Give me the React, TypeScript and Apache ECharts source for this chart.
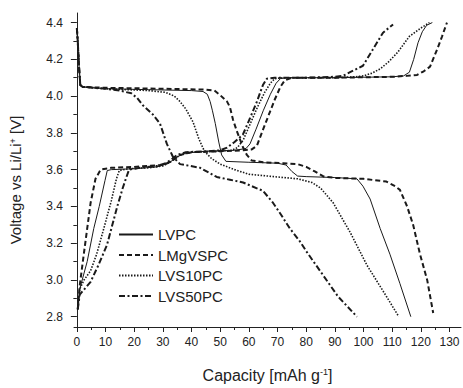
import React, { useEffect, useRef } from "react";
import * as echarts from "echarts";

const xMajor = [0, 10, 20, 30, 40, 50, 60, 70, 80, 90, 100, 110, 120, 130];
const xMinor = [5, 15, 25, 35, 45, 55, 65, 75, 85, 95, 105, 115, 125];
const yMajor = [2.8, 3.0, 3.2, 3.4, 3.6, 3.8, 4.0, 4.2, 4.4];
const yMinor = [2.9, 3.1, 3.3, 3.5, 3.7, 3.9, 4.1, 4.3];

const names = ["LVPC", "LMgVSPC", "LVS10PC", "LVS50PC"];

const lvpcCharge = [
  [0.3, 2.84], [1, 2.95], [3.6, 3.1], [5.9, 3.28], [7.8, 3.4], [9.8, 3.54], [10.6, 3.595],
  [12, 3.6], [20, 3.605], [28, 3.615], [32, 3.635], [35, 3.67], [38, 3.69], [45, 3.7],
  [55, 3.705], [59, 3.715], [60.4, 3.74], [62.5, 3.82], [65, 3.92], [67.5, 4.01], [69.5, 4.07],
  [71, 4.095], [73, 4.1], [90, 4.1], [110, 4.105], [114, 4.11], [116, 4.13], [117.5, 4.2],
  [119, 4.29], [120.5, 4.35], [122, 4.385], [124, 4.4],
];
const lvpcDischarge = [
  [0, 4.37], [0.3, 4.3], [0.8, 4.15], [1.2, 4.06], [2, 4.05], [10, 4.04], [25, 4.035], [40, 4.03],
  [44, 4.025], [45.5, 4.01], [46.5, 3.97], [47.3, 3.92], [48.3, 3.85], [49.5, 3.75], [50.5, 3.68],
  [52, 3.645], [60, 3.64], [70, 3.635], [73, 3.625], [75, 3.59], [77, 3.565], [80, 3.562],
  [90, 3.557], [97.7, 3.55], [99.8, 3.51], [102.3, 3.44], [105.8, 3.28], [109.2, 3.14],
  [112.7, 2.98], [116.5, 2.8],
];

const lmgCharge = [
  [0.3, 2.84], [1, 2.97], [2.5, 3.15], [4.8, 3.42], [6.5, 3.55], [8.3, 3.6], [12, 3.61],
  [20, 3.615], [30, 3.625], [33, 3.645], [36, 3.68], [40, 3.695], [50, 3.7], [58, 3.705],
  [61, 3.71], [62.8, 3.73], [65, 3.82], [67, 3.9], [69, 3.98], [71, 4.05], [72.5, 4.085],
  [75, 4.1], [90, 4.1], [110, 4.105], [115, 4.11], [118.7, 4.115], [121, 4.135], [123.2, 4.16],
  [125.7, 4.255], [127.4, 4.325], [129.1, 4.4],
];
const lmgDischarge = [
  [0, 4.37], [0.3, 4.3], [0.8, 4.15], [1.2, 4.06], [2, 4.05], [10, 4.045], [30, 4.04],
  [45, 4.035], [48, 4.03], [50, 4.005], [52.4, 3.97], [53.4, 3.94], [54.5, 3.87], [55.8, 3.81],
  [57, 3.76], [58, 3.72], [59.3, 3.68], [61, 3.65], [65, 3.64], [72, 3.635], [77, 3.63],
  [80, 3.615], [83, 3.59], [86, 3.563], [90, 3.555], [100, 3.55], [108, 3.535], [111, 3.51],
  [112.7, 3.49], [115.2, 3.4], [117.3, 3.3], [119.7, 3.14], [122.2, 3.0], [124.3, 2.82],
];

const lvs10Charge = [
  [0.3, 2.84], [1, 2.95], [2.5, 3.0], [4.8, 3.05], [6.9, 3.14], [9.4, 3.28], [12, 3.43],
  [13.8, 3.55], [14.8, 3.595], [18, 3.605], [25, 3.61], [30, 3.62], [33, 3.645], [36, 3.68],
  [40, 3.695], [50, 3.7], [54, 3.705], [56, 3.72], [58, 3.76], [60.5, 3.85], [63, 3.94],
  [65.5, 4.02], [67.5, 4.07], [69, 4.095], [72, 4.1], [90, 4.1], [97, 4.105], [100, 4.11],
  [103, 4.125], [106, 4.15], [109, 4.19], [112, 4.24], [116, 4.325], [120, 4.37], [123, 4.4],
];
const lvs10Discharge = [
  [0, 4.37], [0.3, 4.3], [0.8, 4.15], [1.2, 4.06], [2, 4.05], [10, 4.04], [25, 4.03],
  [31, 4.02], [34, 4.0], [36, 3.97], [38, 3.93], [40.5, 3.86], [42.5, 3.77], [44.5, 3.7],
  [47, 3.66], [50, 3.63], [55, 3.6], [60, 3.575], [70, 3.56], [77, 3.55], [82, 3.53],
  [85, 3.5], [89.4, 3.42], [95.3, 3.26], [101.2, 3.08], [108, 2.91], [112.3, 2.8],
];

const lvs50Charge = [
  [0.3, 2.84], [1, 2.92], [4.8, 2.99], [7.5, 3.08], [10.5, 3.19], [14.1, 3.4], [16, 3.5],
  [17.3, 3.56], [18.2, 3.6], [22, 3.61], [28, 3.62], [31, 3.635], [33, 3.655], [35, 3.68],
  [38, 3.695], [46, 3.7], [50, 3.705], [52.4, 3.72], [55, 3.75], [57.9, 3.79], [60.4, 3.88],
  [62.8, 3.97], [64.9, 4.06], [66.3, 4.095], [69, 4.1], [80, 4.1], [90, 4.105], [92.8, 4.11],
  [95.3, 4.13], [99.8, 4.165], [103.3, 4.255], [106.8, 4.345], [110.3, 4.39],
];
const lvs50Discharge = [
  [0, 4.37], [0.3, 4.3], [0.8, 4.15], [1.2, 4.06], [2, 4.05], [10, 4.04], [15, 4.03],
  [19, 4.015], [21, 3.99], [23, 3.95], [26.5, 3.9], [29, 3.85], [31.4, 3.74], [33.5, 3.67],
  [36, 3.63], [43, 3.61], [48.8, 3.56], [53.4, 3.545], [58, 3.53], [61, 3.51], [64.9, 3.485],
  [68.4, 3.42], [71, 3.36], [74.3, 3.28], [77.8, 3.21], [80.3, 3.15], [84.8, 3.05],
  [91.1, 2.91], [97.7, 2.8],
];

const FONT = '"Liberation Sans", Arial, Helvetica, sans-serif';
const INK = "#1a1a1a";

const styles = [
  { width: 1, type: "solid" as any },
  { width: 2, type: [5, 3] },
  { width: 1.6, type: [1.5, 1.5] },
  { width: 2, type: [6, 2.5, 2, 2.5] },
];

const curves = [
  [lvpcCharge, lvpcDischarge],
  [lmgCharge, lmgDischarge],
  [lvs10Charge, lvs10Discharge],
  [lvs50Charge, lvs50Discharge],
];

export default function App() {
  const ref = useRef<HTMLDivElement>(null);
  useEffect(() => {
    if (!ref.current) return;
    const chart = echarts.init(ref.current, undefined, { renderer: "svg" });
    const series: any[] = [];
    curves.forEach((pair, i) => {
      pair.forEach((data) => {
        series.push({
          type: "line",
          name: names[i],
          data,
          symbol: "none",
          showSymbol: false,
          smooth: false,
          xAxisIndex: 0,
          yAxisIndex: 0,
          lineStyle: { color: INK, width: styles[i].width, type: styles[i].type },
          itemStyle: { color: INK },
          emphasis: { disabled: true },
        });
      });
    });
    const axisBase = {
      type: "value",
      splitLine: { show: false },
    };
    const supRich = { sup: { fontSize: 9, verticalAlign: "top", color: "#222", fontFamily: FONT } };
    chart.setOption({
      animation: false,
      grid: { left: 74, right: 2, top: 13, bottom: 54 },
      legend: {
        orient: "vertical",
        left: 118,
        top: 227,
        padding: 0,
        itemWidth: 34,
        itemHeight: 14,
        itemGap: 5.5,
        selectedMode: false,
        data: names,
        itemStyle: { opacity: 0 },
        textStyle: { fontSize: 15, color: "#222", fontFamily: FONT },
      },
      xAxis: [
        {
          ...axisBase,
          min: -1,
          max: 134,
          position: "bottom",
          axisLine: { show: true, lineStyle: { color: "#222", width: 1 } },
          axisTick: { show: true, inside: false, length: 5, customValues: xMajor, lineStyle: { color: "#222" } },
          axisLabel: { customValues: xMajor, fontSize: 12, color: "#222", margin: 9, fontFamily: FONT },
          name: "Capacity [mAh g{sup|-1}]",
          nameLocation: "middle",
          nameGap: 40,
          nameTextStyle: { fontSize: 16, color: "#222", fontFamily: FONT, rich: supRich },
        },
        {
          ...axisBase,
          min: -1,
          max: 134,
          position: "bottom",
          axisLine: { show: false },
          axisTick: { show: true, inside: false, length: 3, customValues: xMinor, lineStyle: { color: "#222" } },
          axisLabel: { show: false },
        },
      ],
      yAxis: [
        {
          ...axisBase,
          min: 2.744,
          max: 4.452,
          position: "left",
          axisLine: { show: true, lineStyle: { color: "#222", width: 1 } },
          axisTick: { show: true, inside: false, length: 6, customValues: yMajor, lineStyle: { color: "#222" } },
          axisLabel: {
            customValues: yMajor,
            fontSize: 12,
            color: "#222",
            margin: 11,
            fontFamily: FONT,
            formatter: (v: number) => v.toFixed(1),
          },
          name: "Voltage vs Li/Li{sup|+} [V]",
          nameLocation: "middle",
          nameGap: 51,
          nameTextStyle: {
            fontSize: 15,
            color: "#222",
            fontFamily: FONT,
            padding: [0, 20, 0, 0],
            rich: supRich,
          },
        },
        {
          ...axisBase,
          min: 2.744,
          max: 4.452,
          position: "left",
          axisLine: { show: false },
          axisTick: { show: true, inside: false, length: 3.5, customValues: yMinor, lineStyle: { color: "#222" } },
          axisLabel: { show: false },
        },
      ],
      series,
    });
    return () => chart.dispose();
  }, []);
  return <div ref={ref} style={{ width: 463, height: 388, position: "absolute", left: 0, top: 0 }} />;
}
